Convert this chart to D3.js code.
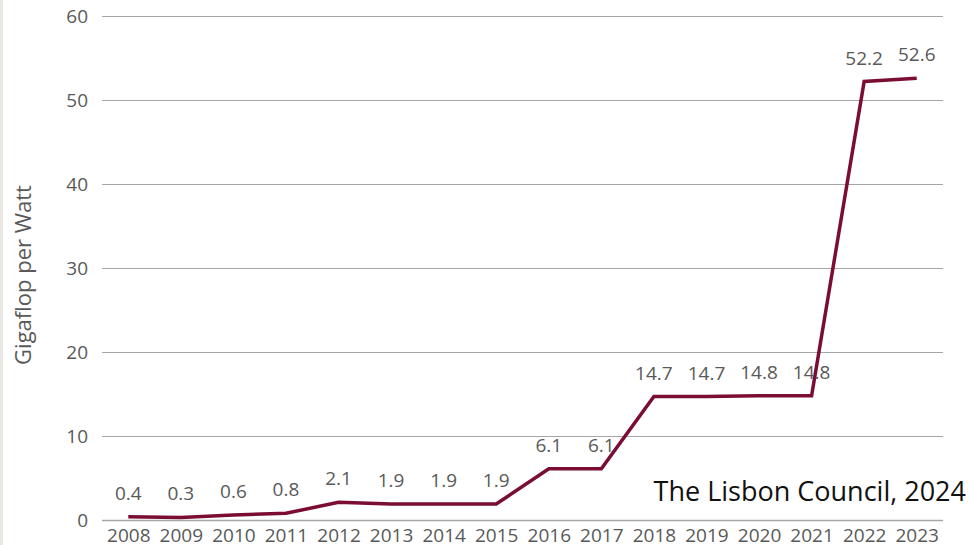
<!DOCTYPE html>
<html>
<head>
<meta charset="utf-8">
<script src="https://cdn.jsdelivr.net/npm/d3@7/dist/d3.min.js"></script>
<style>
  html, body { margin: 0; padding: 0; background: #ffffff; }
  svg { display: block; }
</style>
</head>
<body>
<svg id="chart" width="974" height="545"></svg>
<script>
// Energy efficiency of the top supercomputer, by year
const years = ["2008","2009","2010","2011","2012","2013","2014","2015",
               "2016","2017","2018","2019","2020","2021","2022","2023"];
const gflopsPerWatt = [0.4,0.3,0.6,0.8,2.1,1.9,1.9,1.9,6.1,6.1,14.7,14.7,14.8,14.8,52.2,52.6];
const yTicks = [0,10,20,30,40,50,60];
const yTitle = "Gigaflop per Watt";
const sourceNote = "The Lisbon Council, 2024";

const W = 974, H = 545;
const margin = {top: 16, right: 31, bottom: 25, left: 102};
const font = "'Open Sans', 'DejaVu Sans', sans-serif";

const svg = d3.select("#chart");

// thin grey strip along the left edge
svg.append("rect").attr("x", 0).attr("y", 0).attr("width", 3).attr("height", H)
   .attr("fill", "#e9e7e2");

const x = d3.scalePoint().domain(years)
  .range([margin.left, W - margin.right]).padding(0.5);
const y = d3.scaleLinear().domain([0, 60]).range([H - margin.bottom, margin.top]);

// horizontal gridlines with value labels
const yAxis = d3.axisLeft(y).tickValues(yTicks)
  .tickSize(-(W - margin.right - margin.left)).tickPadding(14);
const gy = svg.append("g").attr("transform", `translate(${margin.left},0)`).call(yAxis);
gy.select(".domain").remove();
gy.selectAll(".tick line").attr("stroke", "#a6a6a6").attr("stroke-width", 1);
gy.selectAll(".tick text").attr("fill", "#595959")
  .style("font-family", font).style("font-size", "19px");

// category axis
const xAxis = d3.axisBottom(x).tickSize(0).tickPadding(9);
const gx = svg.append("g").attr("transform", `translate(0,${y(0)})`).call(xAxis);
gx.select(".domain").attr("d", `M${margin.left},0.5H${W - margin.right}`)
  .attr("stroke", "#a6a6a6").attr("stroke-width", 1.3);
gx.selectAll(".tick text").attr("fill", "#595959")
  .style("font-family", font).style("font-size", "19px");

// axis title
svg.append("text")
  .attr("transform", `translate(31,${(margin.top + H - margin.bottom) / 2 + 7}) rotate(-90)`)
  .attr("text-anchor", "middle")
  .attr("fill", "#595959")
  .style("font-family", font).style("font-size", "22px")
  .text(yTitle);

// the series line
const line = d3.line().x((d, i) => x(years[i])).y(d => y(d));
svg.append("path").datum(gflopsPerWatt)
  .attr("d", line)
  .attr("fill", "none")
  .attr("stroke", "#7b0d34")
  .attr("stroke-width", 3.5)
  .attr("stroke-linejoin", "miter");

// value labels above each point
svg.append("g").selectAll("text").data(gflopsPerWatt).join("text")
  .attr("x", (d, i) => x(years[i]))
  .attr("y", d => y(d) - 17)
  .attr("text-anchor", "middle")
  .attr("fill", "#595959")
  .style("font-family", font).style("font-size", "19px")
  .text(d => d.toFixed(1));

// source note
svg.append("text")
  .attr("x", 966).attr("y", 501)
  .attr("text-anchor", "end")
  .attr("fill", "#111111")
  .style("font-family", font).style("font-size", "27px")
  .text(sourceNote);
</script>
</body>
</html>
